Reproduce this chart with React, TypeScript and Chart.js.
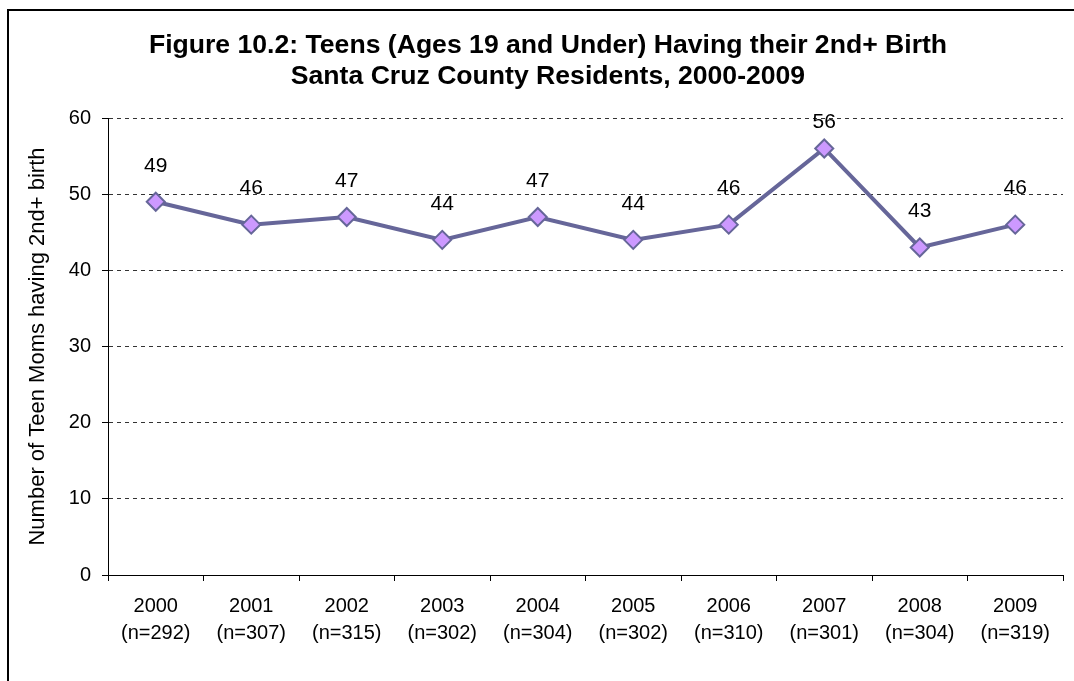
import React, { useEffect, useRef } from "react";
import { Chart, registerables } from "chart.js";

Chart.register(...registerables);

const years = ["2000", "2001", "2002", "2003", "2004", "2005", "2006", "2007", "2008", "2009"];
const sampleSizes = ["(n=292)", "(n=307)", "(n=315)", "(n=302)", "(n=304)", "(n=302)", "(n=310)", "(n=301)", "(n=304)", "(n=319)"];
const teenSecondBirths = [49, 46, 47, 44, 47, 44, 46, 56, 43, 46];
const titleLines = [
  "Figure 10.2: Teens (Ages 19 and Under) Having their 2nd+ Birth",
  "Santa Cruz County Residents, 2000-2009",
];
const yAxisTitle = "Number of Teen Moms having 2nd+ birth";

const FONT = "'Liberation Sans', Arial, Helvetica, sans-serif";

const titleAndLabelsPlugin = {
  id: "titleAndLabels",
  afterDatasetsDraw(chart: any) {
    const ctx = chart.ctx;
    const meta = chart.getDatasetMeta(0);
    const ds = chart.data.datasets[0];
    const top = chart.chartArea.top;
    ctx.save();
    ctx.font = `21px ${FONT}`;
    ctx.fillStyle = "#000";
    ctx.textAlign = "center";
    ctx.textBaseline = "middle";
    meta.data.forEach((pt: any, i: number) => {
      const y = Math.max(pt.y - 36, top + 4);
      ctx.fillText(String(ds.data[i]), pt.x, y);
    });
    ctx.font = `bold 26.6px ${FONT}`;
    ctx.fillText(titleLines[0], 548, 46);
    ctx.fillText(titleLines[1], 548, 77);
    ctx.restore();
  },
};

export default function App() {
  const canvasRef = useRef<HTMLCanvasElement | null>(null);

  useEffect(() => {
    if (!canvasRef.current) return;
    const chart = new Chart(canvasRef.current, {
      type: "line",
      data: {
        labels: years.map((y, i) => [y, sampleSizes[i]]),
        datasets: [
          {
            data: teenSecondBirths,
            borderColor: "#666699",
            borderWidth: 4,
            pointStyle: "rectRot",
            pointRadius: 9,
            pointHoverRadius: 9,
            pointBackgroundColor: "#CC99FF",
            pointBorderColor: "#666699",
            pointBorderWidth: 2,
            tension: 0,
            fill: false,
          },
        ],
      },
      options: {
        animation: false,
        responsive: false,
        maintainAspectRatio: false,
        layout: { padding: { left: 0, right: 11, top: 118, bottom: 0 } },
        plugins: {
          legend: { display: false },
          tooltip: { enabled: false },
          title: { display: false },
        },
        scales: {
          x: {
            offset: true,
            grid: {
              offset: true,
              drawOnChartArea: false,
              drawTicks: true,
              tickLength: 6,
              color: "#000",
            },
            border: { display: true, color: "#000", width: 1 },
            ticks: {
              color: "#000",
              font: { family: FONT, size: 20, lineHeight: 1.35 },
              padding: 12,
              maxRotation: 0,
              autoSkip: false,
            },
            afterFit(scale: any) {
              scale.height = 106;
            },
          },
          y: {
            min: 0,
            max: 60,
            grid: {
              color: "#333",
              tickLength: 6,
              tickBorderDash: [],
              tickColor: "#000",
            },
            border: { display: true, color: "#000", width: 1, dash: [4, 4] },
            ticks: {
              stepSize: 10,
              color: "#000",
              font: { family: FONT, size: 20 },
              padding: 11,
            },
            title: {
              display: true,
              text: yAxisTitle,
              color: "#000",
              font: { family: FONT, size: 22, lineHeight: 1.2 },
              padding: { top: 25, bottom: 0 },
            },
            afterFit(scale: any) {
              scale.width = 108;
            },
          },
        },
      },
      plugins: [titleAndLabelsPlugin],
    });
    return () => chart.destroy();
  }, []);

  return (
    <div
      style={{
        position: "absolute",
        left: 0,
        top: 0,
        width: 1074,
        height: 681,
        overflow: "hidden",
        background: "#fff",
      }}
    >
      <div
        style={{
          position: "absolute",
          left: 7,
          top: 9,
          width: 1200,
          height: 800,
          borderLeft: "2px solid #000",
          borderTop: "2px solid #000",
        }}
      />
      <canvas
        ref={canvasRef}
        width={1074}
        height={681}
        style={{ position: "absolute", left: 0, top: 0, width: 1074, height: 681 }}
      />
    </div>
  );
}
